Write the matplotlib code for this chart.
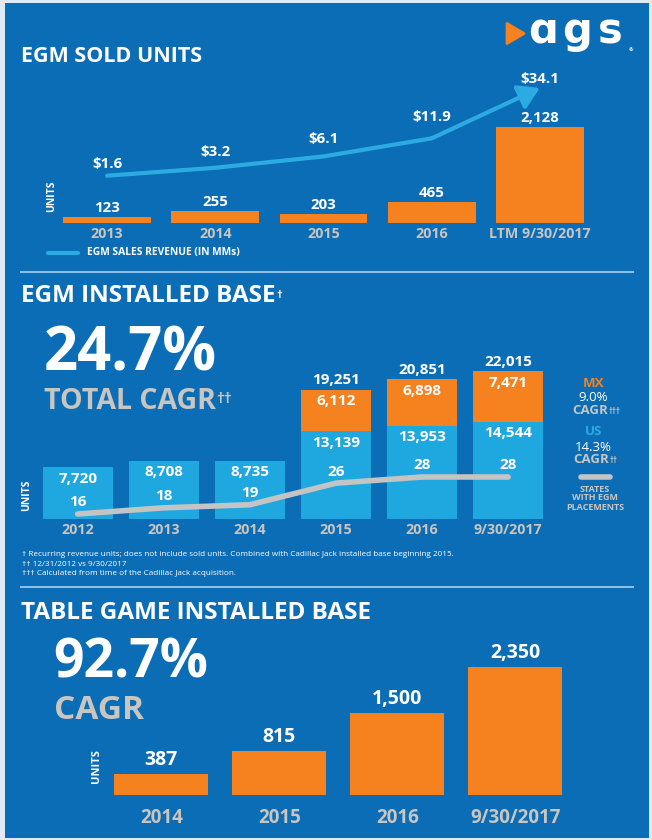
import numpy as np
import matplotlib
matplotlib.use('Agg')
import matplotlib.pyplot as plt
from matplotlib.patches import Rectangle, Polygon
from matplotlib.lines import Line2D

# ---------------- data ----------------
sold_years = ['2013', '2014', '2015', '2016', 'LTM 9/30/2017']
sold_units = [123, 255, 203, 465, 2128]
sold_revenue = [1.6, 3.2, 6.1, 11.9, 34.1]

base_years = ['2012', '2013', '2014', '2015', '2016', '9/30/2017']
base_us = [7720, 8708, 8735, 13139, 13953, 14544]
base_mx = [0, 0, 0, 6112, 6898, 7471]
base_states = [16, 18, 19, 26, 28, 28]

table_years = ['2014', '2015', '2016', '9/30/2017']
table_units = [387, 815, 1500, 2350]

# ---------------- style ----------------
BLUE = '#0b6db5'
ORANGE = '#f5821f'
LBLUE = '#1fa8e0'
LINEBLUE = '#2cabe3'
GRAY = '#c9c5c1'
LGRAY = '#c4c4c4'
WHITE = 'white'
SEP = '#8fc3ea'

plt.rcParams['font.family'] = ['Open Sans', 'DejaVu Sans']

W, H = 652, 840
fig = plt.figure(figsize=(W / 100, H / 100), dpi=100)
fig.patch.set_facecolor('#dcebf6')
renderer = fig.canvas.get_renderer()


def fx(x):
    return x / W


def fy(y):
    return 1 - y / H


def add_ax(left, top, right, bottom):
    ax = fig.add_axes([fx(left), fy(bottom), (right - left) / W, (bottom - top) / H])
    ax.set_axis_off()
    return ax


def T(x, y, s, size, color=WHITE, weight='bold', ha='left', va='center', **kw):
    return fig.text(fx(x), fy(y), s, fontsize=size, color=color, fontweight=weight,
                    ha=ha, va=va, **kw)


def sup(t, s, size, color=WHITE, dx=1.0, dy=0.0):
    bb = t.get_window_extent(renderer=renderer)
    return fig.text((bb.x1 + dx) / W, (bb.y1 - dy) / H, s, fontsize=size, color=color,
                    fontweight='bold', ha='left', va='top')


fig.add_artist(Rectangle((fx(5), fy(838)), 644 / W, 835 / H, transform=fig.transFigure,
                         facecolor=BLUE, edgecolor='none', zorder=-10))

# separators
for yy in (272, 587):
    fig.add_artist(Line2D([fx(21), fx(633)], [fy(yy), fy(yy)], transform=fig.transFigure,
                          color=SEP, lw=1.4))

# ---------------- logo ----------------
fig.add_artist(Polygon([(fx(507), fy(23.5)), (fx(524), fy(33.5)), (fx(507), fy(43.5))],
                       closed=True, transform=fig.transFigure, facecolor=ORANGE,
                       edgecolor=ORANGE, lw=2, joinstyle='round'))
for ch, cx in zip(['\u0251', 'g', 's'], [543.0, 577.5, 610.5]):
    fig.text(fx(cx), fy(43), ch, fontsize=30, color=WHITE, fontweight='bold',
             family='DejaVu Sans', ha='center', va='baseline')
T(629, 50, '\u00ae', 4)

# ---------------- panel 1 ----------------
T(21, 61.5, 'EGM SOLD UNITS', 15.5, va='baseline')

x1 = np.arange(len(sold_units))
ax1 = add_ax(53, 60, 594, 222.7)
scale1 = 96.0 / 2128
ax1.bar(x1, sold_units, width=0.81, color=ORANGE)
ax1.set_xlim(-0.5, len(x1) - 0.5)
ax1.set_ylim(0, (222.7 - 60) / scale1)
for i, v in enumerate(sold_units):
    ax1.annotate(f'{v:,}', (i, v), xytext=(0, 9), textcoords='offset pixels',
                 ha='center', va='center', color=WHITE, fontsize=10.8, fontweight='bold')
    ax1.annotate(sold_years[i], (i, 0), xytext=(0, -11), textcoords='offset pixels',
                 ha='center', va='center', color=GRAY, fontsize=10.3, fontweight='bold')

p = 0.65
fwd = lambda v: np.sign(v) * np.abs(v) ** p
inv = lambda f: np.sign(f) * np.abs(f) ** (1 / p)
ax1r = add_ax(53, 60, 594, 222.7)
ax1r.set_xlim(-0.5, len(x1) - 0.5)
ax1r.set_yscale('function', functions=(fwd, inv))
fa, fb = fwd(sold_revenue[0]), fwd(sold_revenue[-1])
ra, rb = (222.7 - 175.7) / 162.7, (222.7 - 88) / 162.7
span = (fb - fa) / (rb - ra)
fmin = fa - ra * span
ax1r.set_ylim(inv(fmin), inv(fmin + span))
ax1r.plot(x1[:4], sold_revenue[:4], color=LINEBLUE, lw=3, solid_capstyle='round',
          solid_joinstyle='round')
ax1r.annotate('', xy=(x1[4], sold_revenue[4]), xytext=(x1[3], sold_revenue[3]),
              arrowprops=dict(arrowstyle='-|>,head_length=0.9,head_width=0.55',
                              color=LINEBLUE, lw=3, shrinkA=0, shrinkB=0,
                              mutation_scale=14))
rev_offsets = [12, 16, 17, 21, 9]
for i, v in enumerate(sold_revenue):
    ax1r.annotate(f'${v:.1f}', (i, v), xytext=(0, rev_offsets[i]), textcoords='offset pixels',
                  ha='center', va='center', color=WHITE, fontsize=10.8, fontweight='bold')

T(51.7, 196.7, 'UNITS', 7.5, rotation=90, ha='center')
fig.add_artist(Line2D([fx(48), fx(78)], [fy(252.7), fy(252.7)], transform=fig.transFigure,
                      color=LINEBLUE, lw=3, solid_capstyle='round'))
T(87, 252.7, 'EGM SALES REVENUE (IN MMs)', 7.4)

# ---------------- panel 2 ----------------
t = T(21, 302.5, 'EGM INSTALLED BASE', 17.5, va='baseline')
sup(t, '\u2020', 8, dy=5)
T(44, 370.5, '24.7%', 43, va='baseline')
t = T(44, 409, 'TOTAL CAGR', 20.5, color=GRAY, va='baseline')
sup(t, '\u2020\u2020', 11, color=GRAY, dx=0.5, dy=5)

x2 = np.arange(len(base_us))
ax2 = add_ax(34.6, 340, 551.2, 519.3)
scale2 = 0.00672
ax2.bar(x2, base_us, width=0.813, color=LBLUE)
ax2.bar(x2, base_mx, bottom=base_us, width=0.813, color=ORANGE)
ax2.set_xlim(-0.5, len(x2) - 0.5)
ax2.set_ylim(0, (519.3 - 340) / scale2)
for i in range(len(x2)):
    us, mx = base_us[i], base_mx[i]
    ax2.annotate(f'{us:,}', (i, us), xytext=(0, -11.5), textcoords='offset pixels',
                 ha='center', va='center', color=WHITE, fontsize=11, fontweight='bold')
    if mx > 0:
        ax2.annotate(f'{mx:,}', (i, us + mx), xytext=(0, -11.5), textcoords='offset pixels',
                     ha='center', va='center', color=WHITE, fontsize=11, fontweight='bold')
        ax2.annotate(f'{us + mx:,}', (i, us + mx), xytext=(0, 9.5),
                     textcoords='offset pixels', ha='center', va='center', color=WHITE,
                     fontsize=11, fontweight='bold')
    ax2.annotate(base_years[i], (i, 0), xytext=(0, -11), textcoords='offset pixels',
                 ha='center', va='center', color=GRAY, fontsize=10.3, fontweight='bold')

ax2r = add_ax(34.6, 340, 551.2, 519.3)
ax2r.set_xlim(-0.5, len(x2) - 0.5)
h2 = 519.3 - 340
sa, sb = (519.3 - 514) / h2, (519.3 - 477) / h2
sspan = (base_states[-1] - base_states[0]) / (sb - sa)
smin = base_states[0] - sa * sspan
ax2r.set_ylim(smin, smin + sspan)
ax2r.plot(x2, base_states, color=LGRAY, lw=4, solid_capstyle='round', solid_joinstyle='round')
for i, v in enumerate(base_states):
    ax2r.annotate(f'{v}', (i, v), xytext=(0, 11.5), textcoords='offset pixels',
                  ha='center', va='center', color=WHITE, fontsize=11, fontweight='bold')

T(27, 495, 'UNITS', 7.5, rotation=90, ha='center')

# right legend
T(593.3, 384, 'MX', 9.5, color=ORANGE, ha='center')
T(593.3, 397.3, '9.0%', 9.5, weight='normal', ha='center')
t = T(590.5, 410, 'CAGR', 9.5, color=GRAY, ha='center')
sup(t, '\u2020\u2020\u2020', 5.5, color=GRAY, dx=0.5, dy=3)
T(593.3, 431.7, 'US', 9.5, color=LINEBLUE, ha='center')
T(593.3, 447.3, '14.3%', 9.5, weight='normal', ha='center')
t = T(591, 459.3, 'CAGR', 9.5, color=GRAY, ha='center')
sup(t, '\u2020\u2020', 5.5, color=GRAY, dx=0.5, dy=3)
fig.add_artist(Line2D([fx(581), fx(610)], [fy(477.3), fy(477.3)], transform=fig.transFigure,
                      color=LGRAY, lw=4, solid_capstyle='round'))
T(595, 498, 'STATES\nWITH EGM\nPLACEMENTS', 6.5, color=GRAY, ha='center', linespacing=1.0,
  multialignment='center')

# footnotes
T(21.7, 555, '\u2020 Recurring revenue units; does not include sold units. Combined with Cadillac '
  'Jack installed base beginning 2015.', 5.9, weight='normal')
T(21.7, 564, '\u2020\u2020 12/31/2012 vs 9/30/2017', 5.9, weight='normal')
T(21.7, 573.3, '\u2020\u2020\u2020 Calculated from time of the Cadillac Jack acquisition.', 5.9,
  weight='normal')

# ---------------- panel 3 ----------------
T(21, 619, 'TABLE GAME INSTALLED BASE', 17.5, va='baseline')
T(53, 678, '92.7%', 38.5, va='baseline')
T(54, 719, 'CAGR', 24, color=GRAY, va='baseline')

x3 = np.arange(len(table_units))
ax3 = add_ax(102.3, 640, 574.2, 795)
scale3 = 0.0545
ax3.bar(x3, table_units, width=0.80, color=ORANGE)
ax3.set_xlim(-0.5, len(x3) - 0.5)
ax3.set_ylim(0, (795 - 640) / scale3)
for i, v in enumerate(table_units):
    ax3.annotate(f'{v:,}', (i, v), xytext=(0, 14), textcoords='offset pixels',
                 ha='center', va='center', color=WHITE, fontsize=14, fontweight='bold')
    ax3.annotate(table_years[i], (i, 0), xytext=(0, -23), textcoords='offset pixels',
                 ha='center', va='center', color=GRAY, fontsize=13.5, fontweight='bold')
T(96.7, 766, 'UNITS', 8, rotation=90, ha='center')

fig.savefig('out.png', dpi=100, facecolor=fig.get_facecolor())
